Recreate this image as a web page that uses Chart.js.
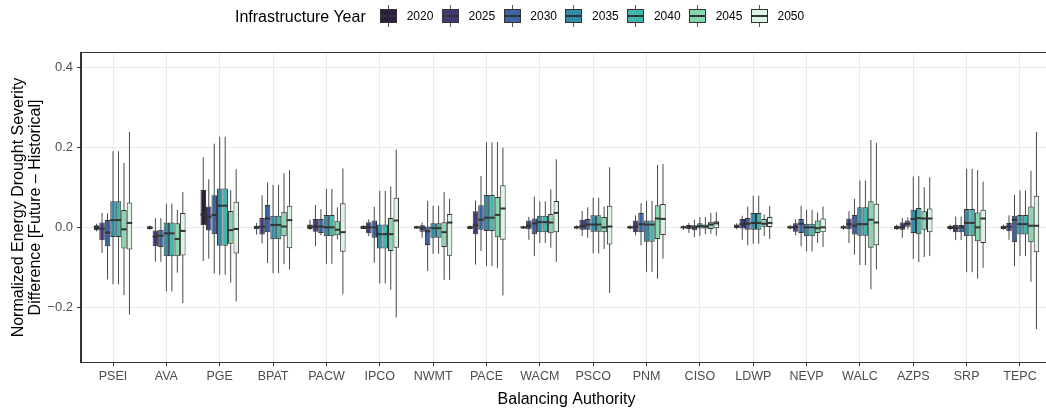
<!DOCTYPE html>
<html>
<head>
<meta charset="utf-8">
<script src="https://cdn.jsdelivr.net/npm/chart.js@4.4.1/dist/chart.umd.min.js"></script>
<style>
  body { margin: 0; overflow: hidden; background: #fff; font-family: "Liberation Sans", Arial, sans-serif; }
  #wrap { position: relative; width: 1060px; height: 408px; }
  #legend { position: absolute; left: 0; top: 0; width: 1046px; height: 40px; }
  .ltitle { position: absolute; left: 235px; top: 9px; font-size: 16px; line-height: 16px; color: #000; white-space: nowrap; }
  .lkey { position: absolute; top: 9px; width: 15px; height: 12px; border: 1px solid #333; }
  .lkey .med { position: absolute; left: 0; right: 0; top: 5px; height: 2px; background: #333; }
  .lkey .wt, .lkey .wb { position: absolute; left: 7px; width: 1px; height: 4px; background: #555; }
  .lkey .wt { top: -5px; }
  .lkey .wb { top: 13px; }
  .llabel { position: absolute; top: 10px; font-size: 12px; line-height: 12px; color: #000; }
</style>
</head>
<body>
<div id="wrap">
  <canvas id="chart"></canvas>
  <div id="legend"></div>
</div>
<script>
// categories and series
const categories = ['PSEI', 'AVA', 'PGE', 'BPAT', 'PACW', 'IPCO', 'NWMT', 'PACE', 'WACM',
  'PSCO', 'PNM', 'CISO', 'LDWP', 'NEVP', 'WALC', 'AZPS', 'SRP', 'TEPC'];
const years = ['2020', '2025', '2030', '2035', '2040', '2045', '2050'];
const colours = ['#2d1e3e', '#3f3b7b', '#3a63a0', '#348ba6', '#3fb5ab', '#86d6ae', '#ddf3e4'];
const yTicks = [-0.2, 0, 0.2, 0.4];

// one row per year, one column per balancing authority
const lowerWhisker = [
  [-0.010, -0.006, -0.084, -0.018, -0.006, -0.004, -0.004, -0.005, -0.004, -0.005, -0.005, -0.007, -0.005, -0.005, -0.006, -0.007, -0.007, -0.006],
  [-0.064, -0.086, -0.078, -0.040, -0.047, -0.022, -0.026, -0.093, -0.031, -0.022, -0.020, -0.014, -0.031, -0.020, -0.039, -0.026, -0.032, -0.031],
  [-0.130, -0.086, -0.115, -0.089, -0.020, -0.088, -0.109, -0.059, -0.072, -0.026, -0.045, -0.024, -0.045, -0.047, -0.068, -0.005, -0.032, -0.097],
  [-0.142, -0.160, -0.118, -0.114, -0.091, -0.140, -0.066, -0.097, -0.039, -0.065, -0.111, -0.022, -0.041, -0.060, -0.094, -0.079, -0.112, -0.072],
  [-0.142, -0.160, -0.118, -0.114, -0.091, -0.140, -0.066, -0.097, -0.039, -0.065, -0.111, -0.017, -0.041, -0.060, -0.094, -0.087, -0.112, -0.072],
  [-0.169, -0.113, -0.138, -0.092, -0.030, -0.156, -0.131, -0.101, -0.051, -0.054, -0.128, -0.016, -0.022, -0.039, -0.155, -0.074, -0.128, -0.136],
  [-0.218, -0.189, -0.185, -0.105, -0.167, -0.225, -0.131, -0.170, -0.086, -0.164, -0.078, -0.021, -0.029, -0.049, -0.105, -0.072, -0.101, -0.254]
];
const lowerHinge = [
  [-0.007, -0.005, 0.005, -0.005, -0.004, -0.004, -0.003, -0.004, -0.003, -0.003, -0.003, -0.002, -0.002, -0.003, -0.003, -0.004, -0.004, -0.004],
  [-0.032, -0.047, -0.008, -0.018, -0.011, -0.015, -0.011, -0.017, -0.005, -0.006, -0.012, -0.004, -0.003, -0.011, -0.005, -0.006, -0.012, -0.010],
  [-0.047, -0.049, -0.017, -0.012, -0.014, -0.026, -0.044, -0.006, -0.017, -0.006, -0.012, -0.007, -0.006, -0.014, -0.018, 0.000, -0.012, -0.037],
  [-0.024, -0.072, -0.046, -0.030, -0.022, -0.053, -0.026, -0.009, -0.012, -0.011, -0.036, -0.003, -0.006, -0.022, -0.021, -0.014, -0.022, -0.018],
  [-0.024, -0.072, -0.046, -0.030, -0.022, -0.053, -0.026, -0.009, -0.012, -0.011, -0.036, -0.003, -0.006, -0.022, -0.021, -0.017, -0.022, -0.018],
  [-0.053, -0.072, -0.041, -0.022, -0.020, -0.059, -0.049, -0.025, -0.015, -0.012, -0.029, -0.004, 0.000, -0.014, -0.051, -0.006, -0.035, -0.037],
  [-0.055, -0.070, -0.065, -0.052, -0.061, -0.051, -0.071, -0.031, -0.012, -0.043, -0.019, -0.002, 0.001, -0.012, -0.045, -0.012, -0.039, -0.062]
];
const medians = [
  [0.000, -0.001, 0.032, 0.000, 0.002, 0.000, 0.000, 0.000, 0.000, 0.000, 0.000, 0.000, 0.002, 0.000, 0.000, 0.000, 0.000, 0.000],
  [-0.003, -0.023, 0.026, 0.002, 0.002, 0.000, -0.001, 0.005, 0.004, 0.003, 0.002, 0.002, 0.008, 0.001, 0.008, 0.000, -0.002, 0.002],
  [-0.013, -0.021, 0.031, 0.022, 0.002, 0.000, -0.010, 0.019, 0.010, 0.007, 0.008, 0.000, 0.009, 0.009, 0.004, 0.009, 0.000, 0.019],
  [0.018, -0.015, 0.054, 0.006, 0.000, -0.017, -0.002, 0.024, 0.013, 0.007, 0.007, 0.003, 0.011, 0.000, 0.008, 0.021, 0.011, 0.008],
  [0.018, -0.015, 0.054, 0.006, 0.000, -0.017, -0.002, 0.024, 0.013, 0.007, 0.007, 0.002, 0.011, 0.000, 0.008, 0.023, 0.011, 0.008],
  [-0.005, -0.029, -0.007, 0.002, -0.006, -0.017, -0.012, 0.031, 0.012, 0.000, 0.022, 0.007, 0.009, -0.002, 0.019, 0.022, 0.000, 0.004],
  [0.011, -0.009, -0.004, 0.018, -0.012, 0.017, 0.012, 0.047, 0.036, 0.002, 0.021, 0.010, 0.011, 0.000, 0.012, 0.022, 0.022, 0.004]
];
const upperHinge = [
  [0.005, 0.003, 0.093, 0.004, 0.007, 0.004, 0.003, 0.003, 0.002, 0.003, 0.003, 0.003, 0.007, 0.003, 0.003, 0.004, 0.004, 0.004],
  [0.012, -0.008, 0.052, 0.023, 0.021, 0.013, 0.005, 0.040, 0.017, 0.019, 0.017, 0.006, 0.021, 0.010, 0.022, 0.012, 0.006, 0.011],
  [0.018, -0.006, 0.080, 0.056, 0.021, 0.017, 0.002, 0.055, 0.022, 0.021, 0.036, 0.005, 0.023, 0.021, 0.031, 0.017, 0.006, 0.029],
  [0.065, 0.012, 0.097, 0.029, 0.031, 0.007, 0.010, 0.081, 0.029, 0.030, 0.017, 0.010, 0.036, 0.009, 0.050, 0.044, 0.046, 0.031],
  [0.065, 0.012, 0.097, 0.029, 0.031, 0.007, 0.010, 0.081, 0.029, 0.030, 0.017, 0.007, 0.036, 0.009, 0.050, 0.048, 0.046, 0.031],
  [0.043, 0.010, 0.041, 0.039, 0.015, 0.023, 0.013, 0.076, 0.033, 0.026, 0.055, 0.014, 0.021, 0.017, 0.065, 0.040, 0.037, 0.052],
  [0.062, 0.036, 0.064, 0.054, 0.060, 0.074, 0.033, 0.105, 0.066, 0.054, 0.058, 0.015, 0.026, 0.022, 0.059, 0.047, 0.044, 0.079]
];
const upperWhisker = [
  [0.009, 0.005, 0.175, 0.011, 0.019, 0.006, 0.004, 0.005, 0.004, 0.005, 0.005, 0.005, 0.010, 0.006, 0.006, 0.007, 0.007, 0.007],
  [0.036, 0.023, 0.120, 0.080, 0.056, 0.020, 0.012, 0.067, 0.026, 0.041, 0.030, 0.011, 0.029, 0.020, 0.040, 0.023, 0.027, 0.030],
  [0.035, 0.023, 0.209, 0.112, 0.045, 0.051, 0.066, 0.128, 0.077, 0.050, 0.060, 0.019, 0.052, 0.054, 0.071, 0.025, 0.027, 0.081],
  [0.190, 0.059, 0.226, 0.106, 0.096, 0.091, 0.054, 0.212, 0.065, 0.074, 0.066, 0.025, 0.079, 0.044, 0.117, 0.127, 0.146, 0.092],
  [0.190, 0.059, 0.226, 0.106, 0.096, 0.091, 0.054, 0.212, 0.065, 0.074, 0.066, 0.026, 0.079, 0.044, 0.117, 0.128, 0.146, 0.092],
  [0.161, 0.044, 0.093, 0.135, 0.050, 0.102, 0.088, 0.213, 0.095, 0.052, 0.156, 0.036, 0.032, 0.037, 0.218, 0.100, 0.143, 0.141],
  [0.238, 0.088, 0.145, 0.143, 0.147, 0.194, 0.071, 0.199, 0.170, 0.150, 0.158, 0.038, 0.054, 0.052, 0.211, 0.125, 0.114, 0.238]
];

const FONT = '"Liberation Sans", Arial, sans-serif';

// whiskers behind the boxes, medians and panel frame on top
const boxPlotLines = {
  id: 'boxPlotLines',
  beforeDatasetsDraw(chart) {
    const ctx = chart.ctx;
    const y = chart.scales.y;
    ctx.save();
    ctx.strokeStyle = '#4a4a4a';
    ctx.lineWidth = 1;
    years.forEach((yr, d) => {
      chart.getDatasetMeta(d).data.forEach((bar, i) => {
        ctx.beginPath();
        ctx.moveTo(bar.x, y.getPixelForValue(lowerWhisker[d][i]));
        ctx.lineTo(bar.x, y.getPixelForValue(upperWhisker[d][i]));
        ctx.stroke();
      });
    });
    ctx.restore();
  },
  afterDatasetsDraw(chart) {
    const ctx = chart.ctx;
    const y = chart.scales.y;
    const a = chart.chartArea;
    ctx.save();
    ctx.strokeStyle = '#333333';
    ctx.lineWidth = 2;
    years.forEach((yr, d) => {
      chart.getDatasetMeta(d).data.forEach((bar, i) => {
        const py = y.getPixelForValue(medians[d][i]);
        ctx.beginPath();
        ctx.moveTo(bar.x - bar.width / 2, py);
        ctx.lineTo(bar.x + bar.width / 2, py);
        ctx.stroke();
      });
    });
    ctx.lineWidth = 1;
    ctx.strokeRect(Math.round(a.left) - 0.5, Math.round(a.top) - 0.5,
      Math.round(a.right - a.left) + 1, Math.round(a.bottom - a.top) + 1);
    ctx.restore();
  }
};

new Chart(document.getElementById('chart'), {
  type: 'bar',
  data: {
    datasets: years.map((yr, d) => ({
      label: yr,
      data: categories.map((c, i) => ({ x: i, y: [lowerHinge[d][i], upperHinge[d][i]] })),
      backgroundColor: colours[d],
      borderColor: '#333333',
      borderWidth: 1,
      borderSkipped: false,
      categoryPercentage: 0.72,
      barPercentage: 1
    }))
  },
  options: {
    responsive: true,
    maintainAspectRatio: false,
    animation: false,
    layout: { padding: { top: 53, right: 8, left: 0, bottom: 0 } },
    plugins: { legend: { display: false }, tooltip: { enabled: false } },
    scales: {
      x: {
        type: 'linear',
        offset: false,
        min: -0.6,
        max: 17.6,
        afterBuildTicks: (scale) => { scale.ticks = categories.map((c, i) => ({ value: i })); },
        afterFit: (scale) => { scale.height = 46; },
        grid: { color: '#ebebeb', lineWidth: 1, offset: false, tickLength: 4, tickColor: '#333333' },
        border: { color: '#333333', width: 1 },
        ticks: {
          autoSkip: false, maxRotation: 0, padding: 3, color: '#4d4d4d',
          font: { family: FONT, size: 12.5 },
          callback: (v) => categories[Math.round(v)]
        },
        title: {
          display: true, text: 'Balancing Authority', color: '#000',
          font: { family: FONT, size: 16, lineHeight: 1.0 }, padding: { top: 0, bottom: 0 }
        }
      },
      y: {
        min: -0.336,
        max: 0.435,
        afterBuildTicks: (scale) => { scale.ticks = yTicks.map(v => ({ value: v })); },
        afterFit: (scale) => { scale.width = 81; },
        grid: { color: '#ebebeb', lineWidth: 1, tickLength: 4, tickColor: '#333333' },
        border: { color: '#333333', width: 1 },
        ticks: {
          padding: 4, color: '#4d4d4d',
          font: { family: FONT, size: 13 },
          callback: (v) => (v < 0 ? '\u2212' : '') + Math.abs(v).toFixed(1)
        },
        title: {
          display: true,
          text: ['Normalized Energy Drought Severity', 'Difference [Future \u2013 Historical]'],
          color: '#000',
          font: { family: FONT, size: 16, lineHeight: 1.05 },
          padding: { top: 10, bottom: 0 }
        }
      }
    }
  },
  plugins: [boxPlotLines]
});

// legend across the top
const legend = document.getElementById('legend');
const title = document.createElement('div');
title.className = 'ltitle';
title.textContent = 'Infrastructure Year';
legend.appendChild(title);
years.forEach((yr, d) => {
  const left = 380 + 61.8 * d;
  const key = document.createElement('div');
  key.className = 'lkey';
  key.style.left = left + 'px';
  key.style.background = colours[d];
  key.innerHTML = '<div class="wt"></div><div class="med"></div><div class="wb"></div>';
  legend.appendChild(key);
  const lab = document.createElement('div');
  lab.className = 'llabel';
  lab.style.left = (left + 26.7) + 'px';
  lab.textContent = yr;
  legend.appendChild(lab);
});
</script>
</body>
</html>
